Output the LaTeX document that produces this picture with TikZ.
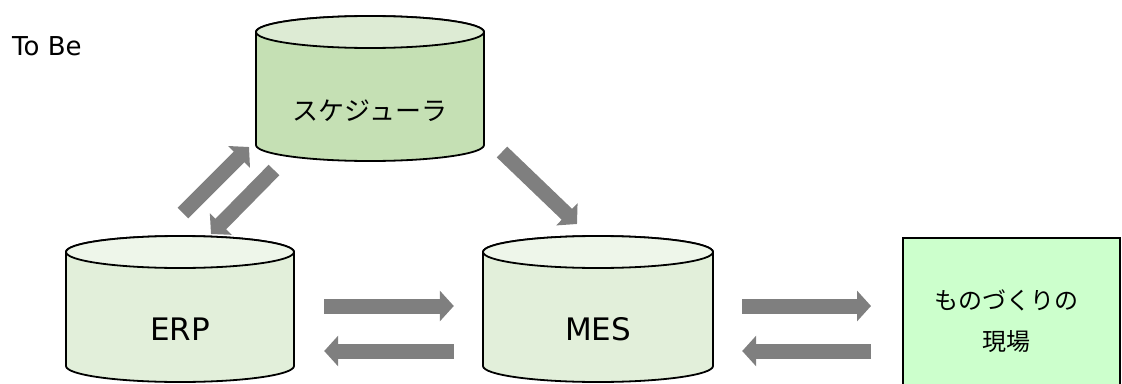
\documentclass[tikz,border=0pt]{standalone}
\usepackage{fontspec}
\setmainfont{DejaVu Sans}
\newfontfamily\jpfont{Noto Sans CJK JP}
\usetikzlibrary{arrows.meta,calc}

\definecolor{schbody}{HTML}{C5E0B4}
\definecolor{schtop}{HTML}{DDEBD4}
\definecolor{canbody}{HTML}{E2EFDA}
\definecolor{cantop}{HTML}{EEF6EA}
\definecolor{sitefill}{HTML}{CCFFCC}
\definecolor{flowgray}{HTML}{7F7F7F}

% cylinder: centre x, top y, bottom y, half width, body colour, lid colour
\newcommand\drawcan[6]{%
  \filldraw[canline, fill=#5] (#1-#4,#2) -- (#1-#4,#3)
    arc[start angle=180, end angle=360, x radius=#4pt, y radius=16pt]
    -- (#1+#4,#2)
    arc[start angle=0, end angle=180, x radius=#4pt, y radius=16pt] -- cycle;
  \filldraw[canline, fill=#6] (#1,#2) ellipse[x radius=#4pt, y radius=16pt];
}

\tikzset{
  canline/.style={draw=black, line width=1.8pt},
  canbox/.style={inner sep=0pt, minimum width=#1pt, minimum height=146pt},
  lbl/.style={inner sep=0pt, font=\fontsize{31}{34}\selectfont},
  jplbl/.style={inner sep=0pt, font=\jpfont\fontsize{26}{41}\selectfont, align=center},
  fat/.style={draw=flowgray, line width=15pt,
    -{Triangle[length=14pt, width=30pt]}},
}

\begin{document}
\begin{tikzpicture}[x=1pt, y=-1pt]
\useasboundingbox (0,0) rectangle (1122,383);
\clip (0,0) rectangle (1122,383);

\node[anchor=west, inner sep=0pt, font=\fontsize{26}{30}\selectfont] (title) at (12,46) {To Be};

% scheduler
\drawcan{370}{32}{145}{114}{schbody}{schtop}
\node[canbox=228] (sch) at (370,88.5) {};
\node[jplbl] (schtext) at ($(sch.center)+(0,22)$) {スケジューラ};

% ERP
\drawcan{180}{252}{366}{114}{canbody}{cantop}
\node[canbox=228] (erp) at (180,309) {};
\node[lbl] (erptext) at ($(erp.center)+(0,20)$) {ERP};

% MES
\drawcan{598}{252}{366}{115}{canbody}{cantop}
\node[canbox=230] (mes) at (598,309) {};
\node[lbl] (mestext) at ($(mes.center)+(0,20)$) {MES};

% shop floor
\node[draw=black, line width=1.8pt, fill=sitefill, anchor=north west,
      minimum width=217pt, minimum height=170pt] (site) at (902,237) {};
\node[jplbl, font=\jpfont\fontsize{24}{41}\selectfont] (sitetext) at (1006,321) {ものづくりの\\現場};

% horizontal flows
\coordinate (rowA) at (0,306);
\coordinate (rowB) at (0,351);
\draw[fat, shorten <=30pt, shorten >=29pt] (erp.east |- rowA) -- (mes.west |- rowA);
\draw[fat, shorten <=29pt, shorten >=30pt] (mes.west |- rowB) -- (erp.east |- rowB);
\draw[fat, shorten <=29pt, shorten >=31pt] (mes.east |- rowA) -- (site.west |- rowA);
\draw[fat, shorten <=31pt, shorten >=29pt] (site.west |- rowB) -- (mes.east |- rowB);

% diagonal flows
\coordinate (erpUp) at (183,213);
\coordinate (schIn) at (249,147);
\coordinate (schOut) at (274,170);
\coordinate (erpIn) at (211,234);
\coordinate (schDown) at (502,152);
\coordinate (mesIn) at (577,224);
\draw[fat] (erpUp) -- (schIn);
\draw[fat] (schOut) -- (erpIn);
\draw[fat] (schDown) -- (mesIn);
\end{tikzpicture}
\end{document}
